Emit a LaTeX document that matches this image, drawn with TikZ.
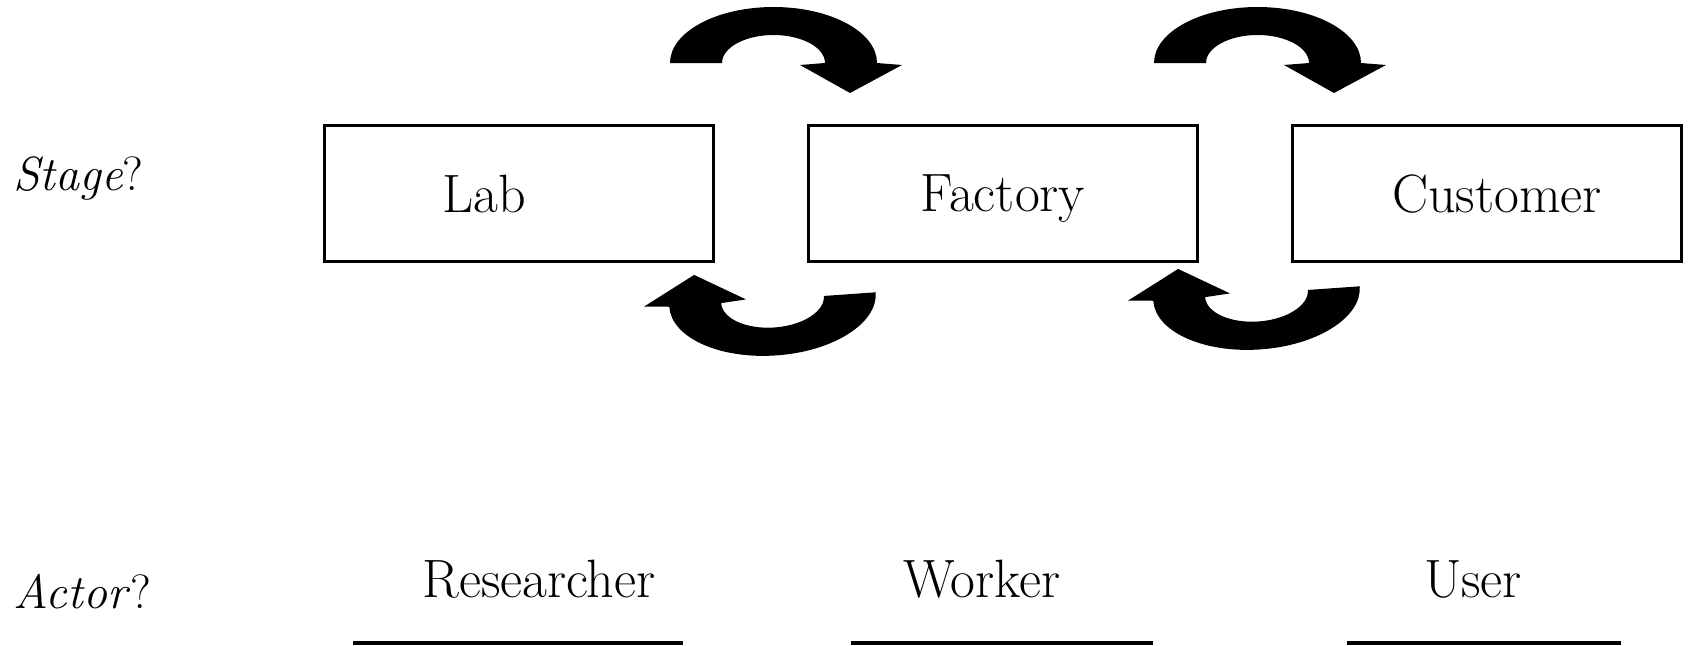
\documentclass[tikz,border=0pt]{standalone}
\usepackage{tikz}
\usetikzlibrary{positioning,calc}

\begin{document}
\begin{tikzpicture}[x=0.5pt,y=0.5pt,node distance=46pt,
    font=\fontsize{27}{32}\selectfont]
      \tikzstyle{stagebox}=[draw,line width=1.5pt,minimum width=194.5pt,minimum height=68pt,text depth=0pt,inner sep=0pt]
      \tikzstyle{rowlabel}=[anchor=base west,inner sep=0pt,font=\fontsize{24}{29}\selectfont]
      \tikzstyle{blank}=[line width=1.6pt]
      \tikzset{turn/.pic={
          \fill (-103,0) arc[start angle=180,end angle=0,x radius=103.5,y radius=56]
            -- (129,-2) -- (77,-30) -- (27,-2) -- (52,0)
            arc[start angle=0,end angle=180,x radius=51.5,y radius=28] -- cycle;}}
      \useasboundingbox (0,0) rectangle (1689,645);
      % stages
      \node[rowlabel] (stage) at (13,455) {\textit{Stage}?};
      \node[stagebox] (lab) at (519,451.5) {Lab\hspace*{35pt}};
      \node[stagebox,right=of lab] (factory) {Factory};
      \node[stagebox,right=of factory] (customer) {\hspace*{10pt}Customer};
      % hand-over arrows
      \coordinate (gapA) at ($(lab.east)!0.5!(factory.west)+(12,0)$);
      \coordinate (gapB) at ($(factory.east)!0.5!(customer.west)+(12,0)$);
      \pic at ($(gapA)+(0,130.5)$) {turn};
      \pic at ($(gapB)+(0,130.5)$) {turn};
      \pic[rotate=184] at ($(gapA)+(0,-106)$) {turn};
      \pic[rotate=184] at ($(gapB)+(0,-100)$) {turn};
      % actors
      \node[rowlabel] (actor) at (13,37) {\textit{Actor}?};
      \node[anchor=base] (researcher) at (539,48) {Researcher};
      \node[anchor=base] (worker) at (982,48) {Worker};
      \node[anchor=base] (user) at (1473,48) {User};
      \draw[blank] (353,2) -- (683,2);
      \draw[blank] (851,2) -- (1153,2);
      \draw[blank] (1347,2) -- (1621,2);
    \end{tikzpicture}
\end{document}
